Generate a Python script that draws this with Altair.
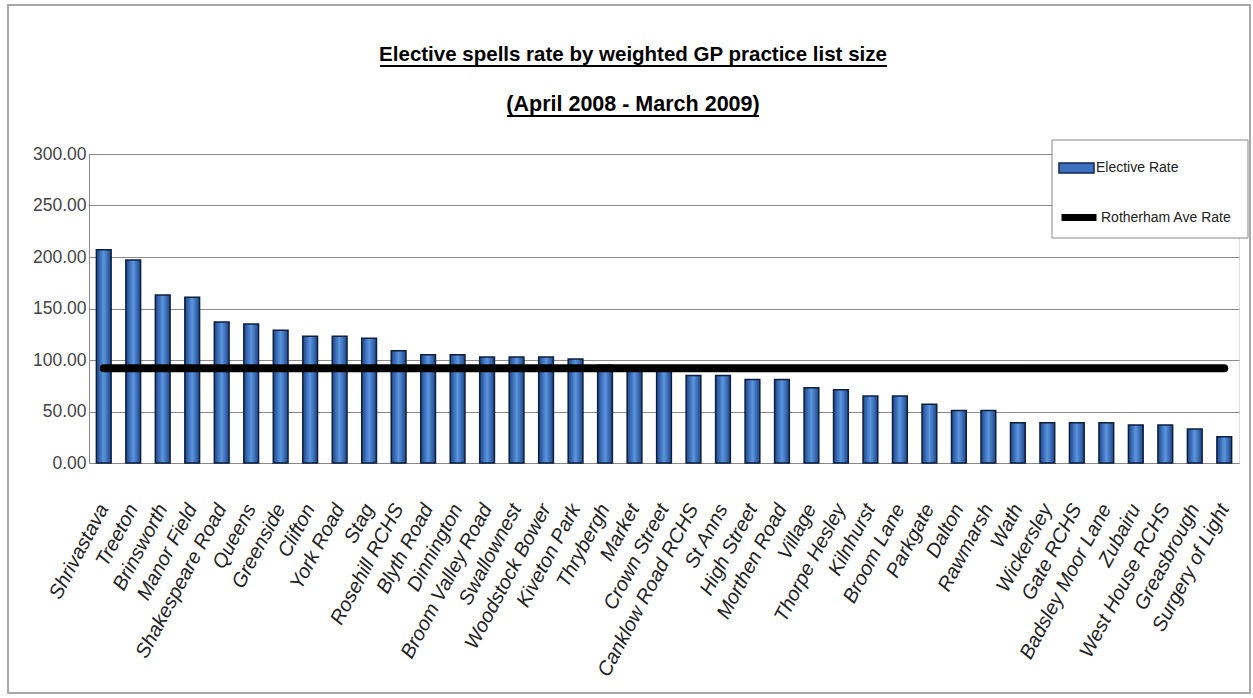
import altair as alt
import pandas as pd

practices = [
    "Shrivastava", "Treeton", "Brinsworth", "Manor Field", "Shakespeare Road",
    "Queens", "Greenside", "Clifton", "York Road", "Stag", "Rosehill RCHS",
    "Blyth Road", "Dinnington", "Broom Valley Road", "Swallownest",
    "Woodstock Bower", "Kiveton Park", "Thrybergh", "Market", "Crown Street",
    "Canklow Road RCHS", "St Anns", "High Street", "Morthen Road", "Village",
    "Thorpe Hesley", "Kilnhurst", "Broom Lane", "Parkgate", "Dalton",
    "Rawmarsh", "Wath", "Wickersley", "Gate RCHS", "Badsley Moor Lane",
    "Zubairu", "West House RCHS", "Greasbrough", "Surgery of Light",
]
elective_rate = [
    207, 197, 163, 161, 137,
    135, 129, 123, 123, 121, 109,
    105, 105, 103, 103,
    103, 101, 95, 94, 93,
    85, 85, 81, 81, 73,
    71, 65, 65, 57, 51,
    51, 39, 39, 39, 39,
    37, 37, 33, 25.5,
]
rotherham_ave_rate = 92.0
series_names = ["Elective Rate", "Rotherham Ave Rate"]
y_ticks = [0, 50, 100, 150, 200, 250, 300]
title_lines = ["Elective spells rate by weighted GP practice list size",
               "(April 2008 - March 2009)"]

bars_df = pd.DataFrame({
    "practice": practices,
    "rate": elective_rate,
    "series": [series_names[0]] * len(practices),
})
avg_df = pd.DataFrame({
    "practice": practices,
    "rate": [rotherham_ave_rate] * len(practices),
    "series": [series_names[1]] * len(practices),
})
one_row = pd.DataFrame({"k": [0]})

FONT = "Liberation Sans"
BLUE = "#3d70bd"

x_enc = alt.X(
    "practice:N", sort=practices, title=None,
    scale=alt.Scale(paddingInner=0.5, paddingOuter=0.25),
    axis=alt.Axis(labelAngle=298, labelAlign="right", labelBaseline="middle",
                  labelPadding=42, labelFontStyle="italic", labelFontSize=20,
                  labelFont=FONT, labelColor="#222",
                  ticks=False, domainColor="#888", labelOverlap=False,
                  labelLimit=400),
)
y_enc = alt.Y(
    "rate:Q", title=None,
    scale=alt.Scale(domain=[0, 300], nice=False),
    axis=alt.Axis(values=y_ticks, format=".2f", labelFontSize=17.5,
                  labelFont=FONT, labelColor="#444",
                  ticks=False, labelPadding=3, domainColor="#888",
                  gridColor="#8a8a8a", gridWidth=1.2),
)

gradient = alt.Gradient(
    gradient="linear",
    stops=[alt.GradientStop(color="#1c4588", offset=0),
           alt.GradientStop(color="#5b95e0", offset=0.5),
           alt.GradientStop(color="#1c4588", offset=1)],
    x1=0, x2=1, y1=0, y2=0,
)

bars = alt.Chart(bars_df).mark_bar(
    fill=gradient, stroke="#0e1f3f", strokeWidth=1.5
).encode(x=x_enc, y=y_enc)

# invisible layer that only carries the "Elective Rate" legend entry
bar_legend = alt.Chart(bars_df).mark_bar(opacity=0).encode(
    x=alt.X("practice:N", sort=practices),
    y="rate:Q",
    fill=alt.Fill("series:N",
                  scale=alt.Scale(domain=[series_names[0]], range=[BLUE]),
                  legend=alt.Legend(
                      title=None, orient="none", legendX=969, legendY=-4.5,
                      padding=0, labelFont=FONT, labelFontSize=14,
                      labelColor="#222", symbolSize=1225, labelOffset=1,
                      symbolType="M-1,-0.28H1V0.28H-1Z", symbolOpacity=1,
                      symbolStrokeColor="#10264f", symbolStrokeWidth=1.5)),
)

line = alt.Chart(avg_df).mark_line(strokeWidth=8, strokeCap="round").encode(
    x=alt.X("practice:N", sort=practices),
    y="rate:Q",
    stroke=alt.Stroke("series:N",
                      scale=alt.Scale(domain=[series_names[1]], range=["black"]),
                      legend=alt.Legend(
                          title=None, orient="none", legendX=969, legendY=42.5,
                          padding=0, labelFont=FONT, labelFontSize=14,
                          labelColor="#222", symbolSize=1225, labelOffset=1,
                          symbolType="stroke", symbolStrokeWidth=7,
                          symbolOpacity=1)),
)

legend_box = alt.Chart(one_row).mark_rect(fill="white", stroke="#888", strokeWidth=1).encode(
    x=alt.value(963), x2=alt.value(1159), y=alt.value(-14), y2=alt.value(84))

title1 = alt.Chart(one_row).mark_text(
    text=title_lines[0], font=FONT, fontSize=20.5, fontWeight="bold",
    color="black", align="center", baseline="alphabetic"
).encode(x=alt.value(544), y=alt.value(-93))
title2 = alt.Chart(one_row).mark_text(
    text=title_lines[1], font=FONT, fontSize=21.5, fontWeight="bold",
    color="black", align="center", baseline="alphabetic"
).encode(x=alt.value(544), y=alt.value(-43))
under1 = alt.Chart(one_row).mark_rule(color="black", strokeWidth=2).encode(
    x=alt.value(291), x2=alt.value(798), y=alt.value(-88))
under2 = alt.Chart(one_row).mark_rule(color="black", strokeWidth=2).encode(
    x=alt.value(418), x2=alt.value(670), y=alt.value(-38))
frame = alt.Chart(one_row).mark_rect(fill=None, stroke="#a8a8a8", strokeWidth=2).encode(
    x=alt.value(-81), x2=alt.value(1161), y=alt.value(-149), y2=alt.value(539))

chart = alt.layer(frame, bars, bar_legend, line, legend_box,
                  title1, title2, under1, under2).properties(
    width=1150, height=309,
    autosize=alt.AutoSizeParams(type="none"),
    padding={"left": 89, "top": 154, "right": 14, "bottom": 235},
).resolve_scale(fill="independent", stroke="independent").configure_view(
    stroke=None).configure(background="white")

chart.save("out.html", embed_options={"renderer": "svg", "actions": False})
